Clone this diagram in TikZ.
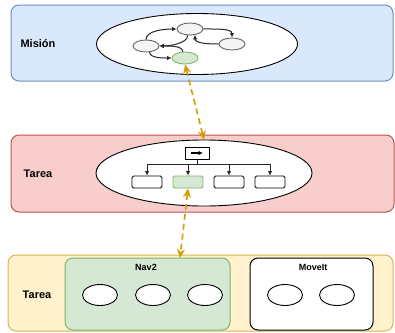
\documentclass[tikz,border=0pt]{standalone}
\usepackage{fontspec}
\setmainfont{Liberation Sans}
\usetikzlibrary{arrows.meta,shapes.geometric,calc}
\definecolor{bluefill}{HTML}{DAE8FC}
\definecolor{bluedraw}{HTML}{6C8EBF}
\definecolor{redfill}{HTML}{F8CECC}
\definecolor{reddraw}{HTML}{B85450}
\definecolor{yelfill}{HTML}{FFF2CC}
\definecolor{yeldraw}{HTML}{D6B656}
\definecolor{grnfill}{HTML}{D5E8D4}
\definecolor{grndraw}{HTML}{82B366}
\definecolor{grayfill}{HTML}{F5F5F5}
\definecolor{graydraw}{HTML}{666666}
\definecolor{orng}{HTML}{D79B00}
\begin{document}
\begin{tikzpicture}[x=1pt,y=-1pt,
  panel/.style={rectangle,rounded corners=8pt,draw,line width=1pt,inner sep=0pt},
  bigell/.style={ellipse,draw=black,fill=white,line width=0.9pt,inner sep=0pt},
  stnode/.style={ellipse,draw=graydraw,fill=grayfill,line width=0.9pt,inner sep=0pt,minimum width=26pt,minimum height=12pt},
  taskbox/.style={rectangle,rounded corners=1.5pt,draw=black,fill=white,line width=0.9pt,inner sep=0pt,minimum width=30pt,minimum height=12pt},
  compell/.style={ellipse,draw=black,fill=white,line width=0.9pt,inner sep=0pt,minimum width=35pt,minimum height=21pt},
  lbl/.style={font=\bfseries\fontsize{11}{13}\selectfont,inner sep=0pt},
  smlbl/.style={font=\bfseries\fontsize{9}{10}\selectfont,inner sep=0pt},
  flow/.style={draw=black!85,line width=1pt,-{Latex[length=4.5pt,width=4.5pt]}},
  link/.style={draw=orng,line width=1.6pt,dash pattern=on 6pt off 4pt,{Stealth[length=9pt,width=8pt]}-{Stealth[length=9pt,width=8pt]}}
]
\useasboundingbox (0,0) rectangle (395,332);

% Panels
\node[panel,draw=bluedraw,fill=bluefill,minimum width=382pt,minimum height=76pt] (pmis) at (202,43) {};
\node[panel,draw=reddraw,fill=redfill,minimum width=383pt,minimum height=77pt] (ptar) at (202.5,173.5) {};
\node[panel,draw=yeldraw,fill=yelfill,minimum width=385pt,minimum height=76pt] (pcomp) at (200.5,293) {};

\node[lbl] (lmis) at (38,44) {Misión};
\node[lbl] (ltar) at (38,174) {Tarea};
\node[lbl] (lcomp) at (37,295) {Tarea};

% Mission ellipse with state machine
\node[bigell,minimum width=201pt,minimum height=61pt] (e1) at (197,44) {};
\node[stnode] (sL) at (146,46) {};
\node[stnode] (sT) at (190,29) {};
\node[stnode] (sR) at (232,44) {};
\node[stnode,draw=grndraw,fill=grnfill] (sG) at (185,58) {};

\draw[flow] (sL.north) .. controls +(0,-9) and +(-12,0) .. (sT.west);
\draw[flow] (sT.east) .. controls +(14,0) and +(0,-9) .. (sR.north);
\draw[flow] (sR.west) .. controls +(-12,0) and +(0,8) .. (sT.-50);
\draw[flow] (sT.-110) .. controls +(0,8) and +(10,0) .. (sL.east);
\draw[flow] (sG.110) .. controls +(0,-6) and +(10,0) .. (sL.east);
\draw[flow] (sL.-60) .. controls +(0,6) and +(-8,0) .. (sG.west);

% Task ellipse with tree
\node[bigell,minimum width=216pt,minimum height=66pt] (e2) at (204,173) {};
\node[rectangle,draw=black,fill=white,line width=1pt,inner sep=0pt,minimum width=24pt,minimum height=12pt] (root) at (197,153) {};
\draw[line width=1.1pt,-{Latex[length=4.5pt,width=4.5pt]}] ($(root.center)+(-6,0)$) -- ($(root.center)+(6,0)$);
\node[taskbox] (c1) at (147,182) {};
\node[taskbox,draw=grndraw,fill=grnfill] (c2) at (188,182) {};
\node[taskbox] (c3) at (229,182) {};
\node[taskbox] (c4) at (270,182) {};
\foreach \c in {c1,c2,c3,c4}{
  \draw[flow] (root.south) -- ++(0,5) -| (\c.north);
}

% Component layer
\node[panel,draw=grndraw,fill=grnfill,minimum width=165pt,minimum height=72pt] (nav) at (147.5,294) {};
\node[panel,draw=black,fill=white,minimum width=123pt,minimum height=72pt] (mov) at (311.5,294) {};
\node[smlbl] (lnav) at (146,267) {Nav2};
\node[smlbl] (lmov) at (313,267) {MoveIt};
\node[compell] (n1) at (100,295) {};
\node[compell] (n2) at (153,295) {};
\node[compell] (n3) at (205,295) {};
\node[compell] (m1) at (285,295) {};
\node[compell] (m2) at (337,295) {};

% Orange links
\coordinate (navtop) at (180,258);
\draw[link] (sG.south) -- (e2.north);
\draw[link] (c2.south) -- (navtop);
\end{tikzpicture}
\end{document}
